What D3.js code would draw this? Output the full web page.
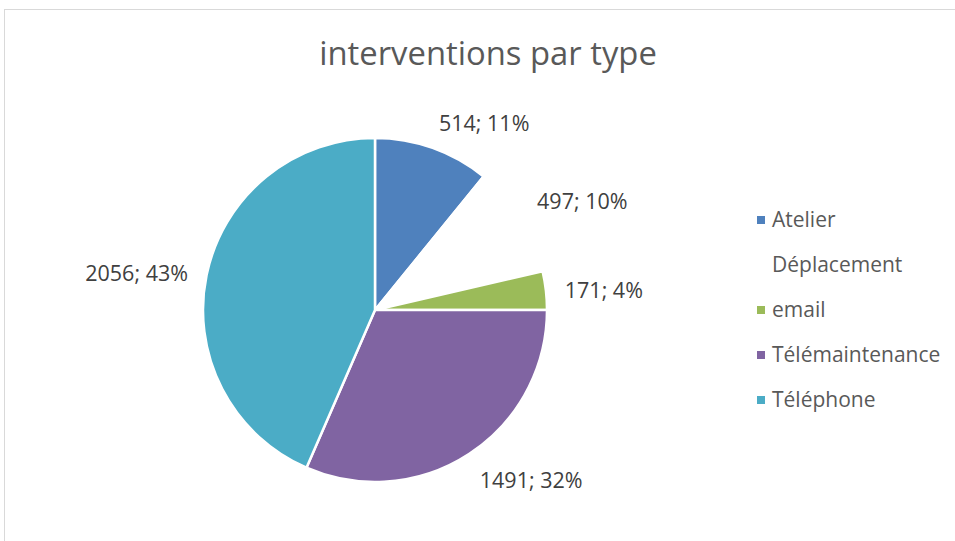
<!DOCTYPE html>
<html>
<head>
<meta charset="utf-8">
<script src="https://cdn.jsdelivr.net/npm/d3@7"></script>
<style>
  body { margin: 0; background: #fff; }
  svg { display: block; }
</style>
</head>
<body>
<script>
const categories = ["Atelier", "Déplacement", "email", "Télémaintenance", "Téléphone"];
const values = [514, 497, 171, 1491, 2056];
const percents = [11, 10, 4, 32, 43];
const colors = ["#4f81bd", "#ffffff", "#9bbb59", "#8064a2", "#4bacc6"];

const width = 955;
const height = 541;
const cx = 375, cy = 310, radius = 172;
const font = "'Open Sans', sans-serif";

const svg = d3.select("body").append("svg")
    .attr("width", width)
    .attr("height", height);

// chart frame
svg.append("rect")
    .attr("x", 4.5).attr("y", 9.5)
    .attr("width", width + 10).attr("height", height + 10)
    .attr("fill", "#fff")
    .attr("stroke", "#d9d9d9");

svg.append("text")
    .attr("x", 488).attr("y", 65)
    .attr("text-anchor", "middle")
    .attr("font-family", font)
    .attr("font-size", 32.8)
    .attr("fill", "#595959")
    .text("interventions par type");

const data = categories.map((c, i) => ({name: c, value: values[i], pct: percents[i], color: colors[i]}));

const pie = d3.pie().sort(null).value(d => d.value);
const arcs = pie(data);
const arc = d3.arc().innerRadius(0).outerRadius(radius);

const g = svg.append("g").attr("transform", `translate(${cx},${cy})`);

g.selectAll("path")
  .data(arcs)
  .join("path")
    .attr("d", arc)
    .attr("fill", d => d.data.color)
    .attr("stroke", "#fff")
    .attr("stroke-width", 2.5)
    .attr("stroke-linejoin", "round");

// outside-end labels
const lr = radius + 19;
g.selectAll("text.lbl")
  .data(arcs)
  .join("text")
    .attr("class", "lbl")
    .attr("font-family", font)
    .attr("font-size", 21.5)
    .attr("fill", "#404040")
    .each(function(d) {
      const a = (d.startAngle + d.endAngle) / 2;
      const s = Math.sin(a), c = Math.cos(a);
      const x = lr * s, y = -lr * c;
      const sy = Math.abs(c) > 0.5 ? (c > 0 ? -1 : 1) : 0;
      d3.select(this)
        .attr("x", x)
        .attr("y", y + sy * 9 + 2)
        .attr("dy", "0.35em")
        .attr("text-anchor", s >= 0 ? "start" : "end")
        .text(`${d.data.value}; ${d.data.pct}%`);
    });

// legend
const legend = svg.append("g")
  .selectAll("g")
  .data(data)
  .join("g")
    .attr("transform", (d, i) => `translate(757,${220 + i * 45})`);

legend.append("rect")
    .attr("x", 0).attr("y", -4)
    .attr("width", 8).attr("height", 8)
    .attr("fill", d => d.color);

legend.append("text")
    .attr("x", 15)
    .attr("dy", "0.35em")
    .attr("font-family", font)
    .attr("font-size", 21)
    .attr("fill", "#595959")
    .text(d => d.name);
</script>
</body>
</html>
